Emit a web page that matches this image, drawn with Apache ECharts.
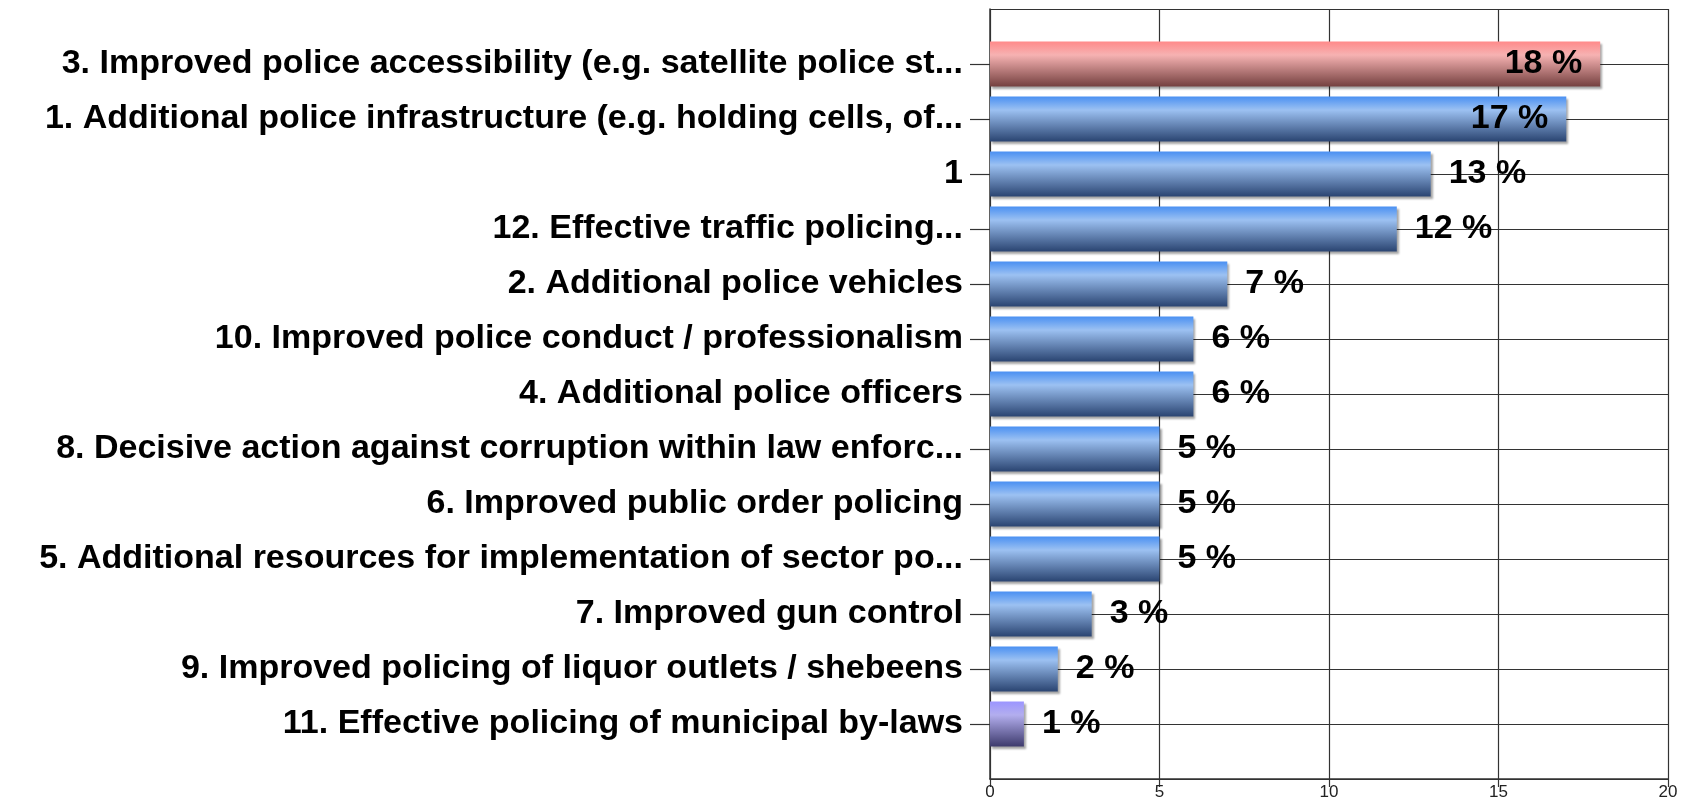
<!DOCTYPE html>
<html>
<head>
<meta charset="utf-8">
<script src="https://cdn.jsdelivr.net/npm/echarts@6/dist/echarts.min.js"></script>
<style>
  html, body { margin: 0; padding: 0; background: #fff; }
  #chart { width: 1693px; height: 809px; }
</style>
</head>
<body>
<div id="chart"></div>
<script>
// categories, top to bottom
const categories = [
  "3. Improved police accessibility (e.g. satellite police st...",
  "1. Additional police infrastructure (e.g. holding cells, of...",
  "1",
  "12. Effective traffic policing...",
  "2. Additional police vehicles",
  "10. Improved police conduct / professionalism",
  "4. Additional police officers",
  "8. Decisive action against corruption within law enforc...",
  "6. Improved public order policing",
  "5. Additional resources for implementation of sector po...",
  "7. Improved gun control",
  "9. Improved policing of liquor outlets / shebeens",
  "11. Effective policing of municipal by-laws"
];
const values = [18, 17, 13, 12, 7, 6, 6, 5, 5, 5, 3, 2, 1];
const xTicks = [0, 5, 10, 15, 20];

function grad(top, light, bottom) {
  return new echarts.graphic.LinearGradient(0, 0, 0, 1, [
    { offset: 0, color: top },
    { offset: 0.3, color: light },
    { offset: 1, color: bottom }
  ]);
}
const blue = grad("#4a90f2", "#9cc1f2", "#2a4471");
const red = grad("#ff8a8a", "#f6b2b2", "#74403f");
const purple = grad("#9b95ff", "#b3aeee", "#3d3a6c");

// one empty slot above and below, like the original frame
const cats = [""].concat(categories, [""]);
const n = cats.length;
const barData = [null].concat(values.map((v, i) => {
  const item = { value: v, itemStyle: { color: i === 0 ? red : (i === values.length - 1 ? purple : blue) } };
  if (i < 2) item.label = { position: "insideRight", distance: 18 };
  return item;
}), [null]);

const chart = echarts.init(document.getElementById("chart"));
chart.setOption({
  animation: false,
  grid: { left: 990, right: 25, top: 9, bottom: 30 },
  xAxis: {
    type: "value",
    min: xTicks[0],
    max: xTicks[xTicks.length - 1],
    interval: 5,
    axisLine: { show: true, lineStyle: { color: "#333", width: 1.5 } },
    axisTick: { show: true, length: 8, lineStyle: { color: "#333", width: 1.2 } },
    axisLabel: { color: "#222", fontSize: 17, fontFamily: "Liberation Sans, Arial", margin: 5 },
    splitLine: { show: true, lineStyle: { color: "#333", width: 1.2 } }
  },
  yAxis: {
    type: "category",
    inverse: true,
    data: cats,
    boundaryGap: false,
    axisLine: { show: true, lineStyle: { color: "#333", width: 1.5 } },
    axisTick: {
      show: true, length: 20, lineStyle: { color: "#333", width: 1.2 },
      interval: (idx) => idx > 0 && idx < n - 1
    },
    axisLabel: {
      interval: 0, margin: 27, color: "#000",
      fontSize: 34, fontWeight: "bold", fontFamily: "Liberation Sans, Arial"
    },
    splitLine: { show: true, interval: 0, lineStyle: { color: "#333", width: 1.2 } }
  },
  series: [{
    type: "bar",
    data: barData,
    barWidth: 45,
    itemStyle: {
      shadowColor: "rgba(0,0,0,0.35)", shadowBlur: 2, shadowOffsetX: 2, shadowOffsetY: 2
    },
    label: {
      show: true, position: "right", distance: 18,
      formatter: (p) => p.value + " %",
      color: "#000", fontSize: 34, fontWeight: "bold", fontFamily: "Liberation Sans, Arial"
    }
  }]
});
</script>
</body>
</html>
